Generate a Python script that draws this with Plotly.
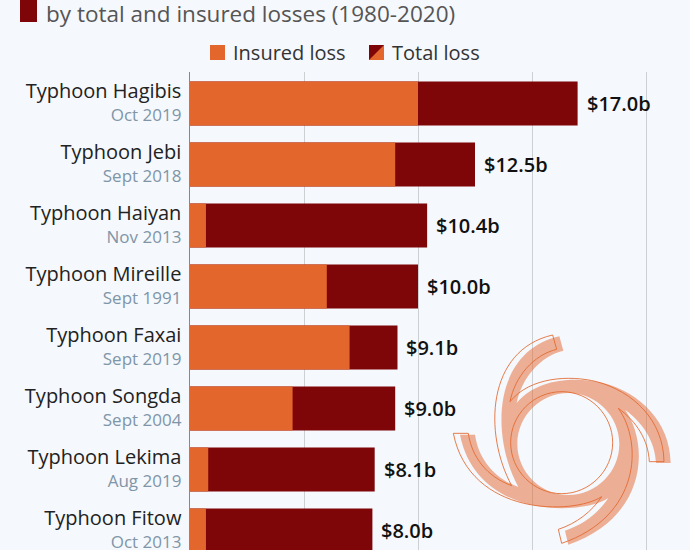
import plotly.graph_objects as go

names = ["Typhoon Hagibis", "Typhoon Jebi", "Typhoon Haiyan", "Typhoon Mireille",
         "Typhoon Faxai", "Typhoon Songda", "Typhoon Lekima", "Typhoon Fitow"]
dates = ["Oct 2019", "Sept 2018", "Nov 2013", "Sept 1991",
         "Sept 2019", "Sept 2004", "Aug 2019", "Oct 2013"]
total = [17.0, 12.5, 10.4, 10.0, 9.1, 9.0, 8.1, 8.0]
insured = [10.0, 9.0, 0.7, 6.0, 7.0, 4.5, 0.8, 0.7]
grid_ticks = [0, 5, 10, 15, 20]

BG = "#f5f8fc"
ORANGE = "#e3662d"
DARK = "#7e0508"
FONT = "Open Sans"
W, H = 690, 550


def px(x):
    return x / W


def py(y):
    return 1 - y / H


ticktext = [
    f'<span style="font-size:20px;color:#222">{n}</span><br>'
    f'<span style="font-size:17px;color:#7f95a8">{d}</span>'
    for n, d in zip(names, dates)
]

fig = go.Figure()
fig.add_bar(y=names, x=total, orientation="h", marker=dict(color=DARK, line_width=0),
            name="Total loss", width=0.72, showlegend=False)
fig.add_bar(y=names, x=insured, orientation="h", marker=dict(color=ORANGE, line_width=0),
            name="Insured loss", width=0.72, showlegend=False)

annotations = [
    dict(x=t, y=n, xref="x", yref="y", text=f"${t:.1f}b", showarrow=False, xanchor="left",
         xshift=7, font=dict(family=FONT, size=20, color="#111", weight=600))
    for t, n in zip(total, names)
]
annotations += [
    dict(x=px(44), y=py(13), xref="paper", yref="paper", text="by total and insured losses (1980-2020)",
         showarrow=False, xanchor="left", yanchor="middle", font=dict(family=FONT, size=22.5, color="#555")),
    dict(x=px(231), y=py(53), xref="paper", yref="paper", text="Insured loss", showarrow=False,
         xanchor="left", yanchor="middle", font=dict(family=FONT, size=20, color="#333")),
    dict(x=px(390), y=py(53), xref="paper", yref="paper", text="Total loss", showarrow=False,
         xanchor="left", yanchor="middle", font=dict(family=FONT, size=20, color="#333")),
]


def P(x, y):
    return f"{px(x):.5f},{py(y):.5f}"


def rect(x0, y0, x1, y1, color):
    return dict(type="rect", xref="paper", yref="paper", x0=px(x0), x1=px(x1), y0=py(y0), y1=py(y1),
                fillcolor=color, line_width=0, layer="above")


def swirl(dx, dy):
    def z(x, y):
        return P(440 + (x + dx) / 3, 320 + (y + dy) / 3)

    def c(a, b, d):
        return f"C{z(*a)} {z(*b)} {z(*d)}"

    parts = [
        f"M{z(210, 245)}",
        c((270, 170), (390, 165), (470, 185)),
        c((580, 215), (670, 300), (672, 425)),
        f"L{z(628, 425)}",
        c((625, 360), (590, 305), (535, 265)),
        c((610, 370), (600, 590), (365, 670)),
        f"L{z(355, 628)}",
        c((410, 610), (455, 575), (485, 530)),
        c((400, 585), (90, 590), (40, 340)),
        f"L{z(85, 340)}",
        c((95, 410), (140, 470), (215, 497)),
        c((130, 340), (140, 90), (338, 45)),
        f"L{z(350, 88)}",
        c((280, 105), (225, 170), (210, 245)),
        "Z",
    ]
    cx, cy, r, k = 365, 368, 153, 84
    parts += [
        f"M{z(cx, cy - r)}",
        c((cx - k, cy - r), (cx - r, cy - k), (cx - r, cy)),
        c((cx - r, cy + k), (cx - k, cy + r), (cx, cy + r)),
        c((cx + k, cy + r), (cx + r, cy + k), (cx + r, cy)),
        c((cx + r, cy - k), (cx + k, cy - r), (cx, cy - r)),
        "Z",
    ]
    return "".join(parts)


shapes = [
    rect(20, -2, 37, 22, DARK),
    rect(210, 45, 225, 60, ORANGE),
    rect(369, 45, 384, 60, DARK),
    dict(type="path", xref="paper", yref="paper", layer="above", line_width=0, fillcolor=ORANGE,
         path=f"M{P(369, 60)}L{P(384, 45)}L{P(384, 60)}Z"),
    dict(type="path", xref="paper", yref="paper", layer="above", line_width=0,
         fillcolor="rgba(227,102,45,0.5)", path=swirl(20, 4)),
    dict(type="path", xref="paper", yref="paper", layer="above", line=dict(color="rgba(227,102,45,0.85)", width=1),
         fillcolor="rgba(0,0,0,0)", path=swirl(0, 0)),
]

fig.update_layout(
    width=W, height=H, autosize=False,
    margin=dict(l=0, r=0, t=0, b=0),
    paper_bgcolor=BG, plot_bgcolor=BG,
    barmode="overlay",
    showlegend=False,
    annotations=annotations,
    shapes=shapes,
    font=dict(family=FONT),
    xaxis=dict(domain=[190 / W, 1], range=[0, 500 / 22.8], tickvals=grid_ticks, showticklabels=False,
               showgrid=True, gridcolor="#ccd0d3", gridwidth=1, zeroline=False, fixedrange=True),
    yaxis=dict(domain=[0, 1 - 72 / H], range=[7.32, -0.516], type="category",
               tickmode="array", tickvals=names, ticktext=ticktext, showgrid=False,
               tickfont=dict(size=18, family=FONT),
               showline=True, linecolor="#85898c", linewidth=1, ticks="", ticklabelstandoff=4,
               fixedrange=True, automargin=False),
)

fig.write_html("out.html", config=dict(displayModeBar=False),
               post_script="document.body.style.margin='0';document.body.style.background='#f5f8fc';")
